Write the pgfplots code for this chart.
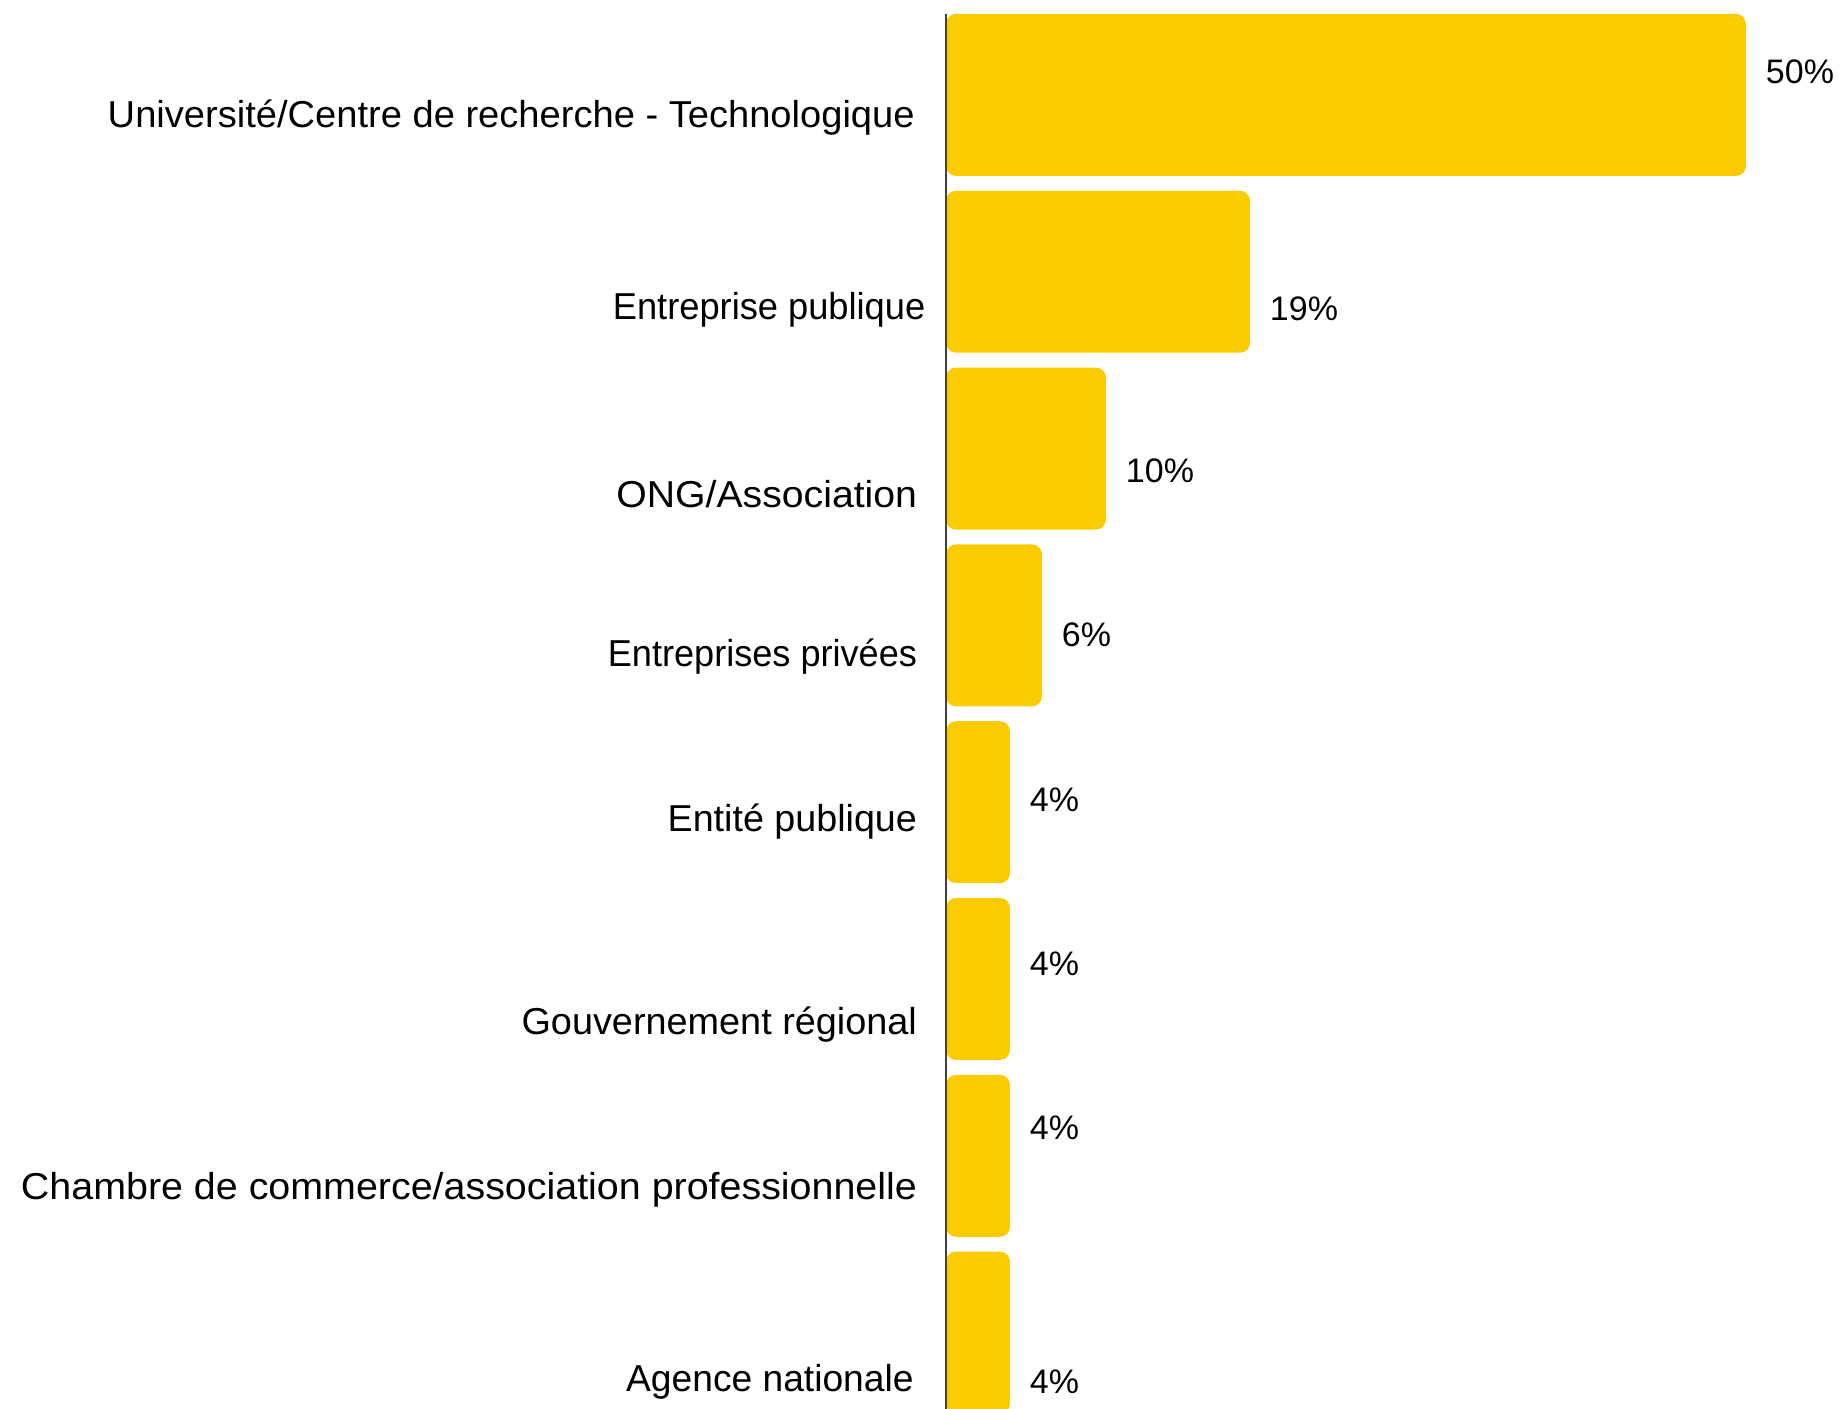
\documentclass[border=0pt]{standalone}
\usepackage{pgfplots}
\pgfplotsset{compat=1.18}
\usepackage{fontspec}
\setmainfont{Liberation Sans}
\definecolor{baryellow}{RGB}{250,204,0}
\begin{document}
\begin{tikzpicture}
\begin{axis}[
  scale only axis,
  width=268.5pt, height=422.7pt,
  xmin=0, xmax=55.94,
  ymin=-0.537, ymax=7.432,
  y dir=reverse,
  clip=false,
  xtick=\empty,
  axis line style={draw=none},
  ytick style={draw=none},
  /pgf/number format/assume math mode=true,
  ytick={0.107,1.195,2.239,3.155,4.090,5.24,6.175,7.26},
  yticklabels={\scalebox{1.016}[1]{Université/Centre de recherche - Technologique}\hspace*{0.7pt},
    \scalebox{0.967}[1]{Entreprise publique}\hspace*{-2.5pt},
    \scalebox{1.045}[1]{ONG/Association},
    \scalebox{0.963}[1]{Entreprises privées},
    \scalebox{1.005}[1]{Entité publique},
    \scalebox{1.009}[1]{Gouvernement régional},
    \scalebox{1.051}[1]{Chambre de commerce/association professionnelle},
    \scalebox{0.992}[1]{Agence nationale}\hspace*{1pt}},
  yticklabel style={font=\fontsize{11.25}{13}\selectfont, anchor=east, inner sep=0pt, xshift=-8.5pt, yshift=-1pt},
]
% bars
\addplot[xbar, bar width=0.916, fill=baryellow, draw=none, rounded corners=3pt]
table {
x y
50 0
19 1
10 2
6 3
4 4
4 5
4 6
4 7
};
% value labels (positions as in the original)
\addplot[draw=none, mark=none, point meta=x,
  nodes near coords={\pgfmathprintnumber{\pgfplotspointmeta}\%},
  nodes near coords style={anchor=west, inner sep=0pt, xshift=5.8pt,
    font=\fontsize{10.2}{12}\selectfont, text=black}]
table {
x y
50 -0.132
19 1.209
10 2.126
6 3.055
4 3.985
4 4.915
4 5.844
4 7.278
};
\draw[black!75, line width=0.5pt] (axis cs:0,-0.458) -- (axis cs:0,7.432);
\end{axis}
\pgfresetboundingbox
\path[use as bounding box] ([xshift=-283.8pt]current axis.south west) rectangle (current axis.north east);
\end{tikzpicture}
\end{document}
